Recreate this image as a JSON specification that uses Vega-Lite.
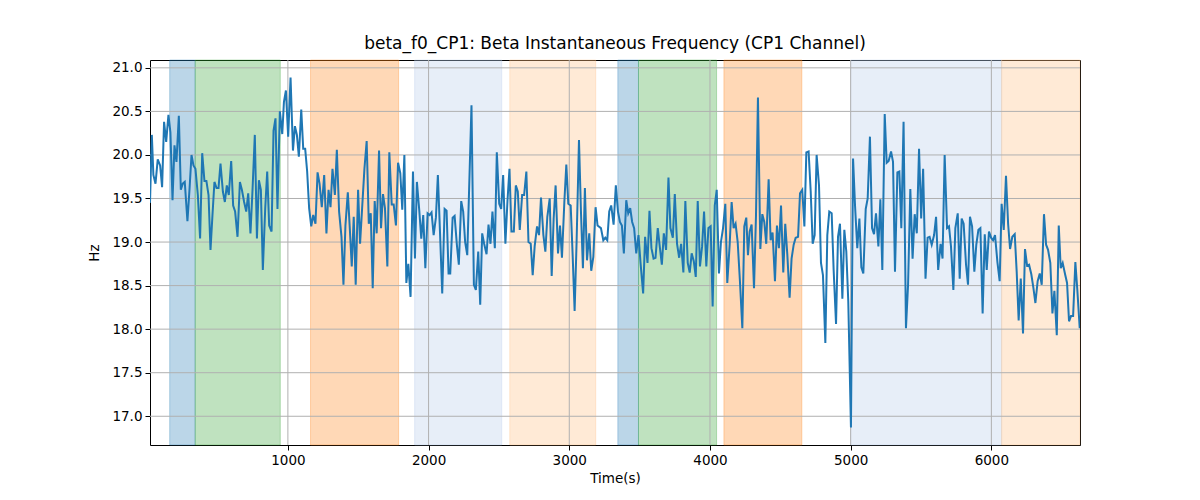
{
  "$schema": "https://vega.github.io/schema/vega-lite/v6.json",
  "width": 930,
  "height": 385,
  "autosize": {"type": "none"},
  "padding": {"left": 150, "top": 60, "right": 120, "bottom": 55},
  "background": "white",
  "title": {"text": "beta_f0_CP1: Beta Instantaneous Frequency (CP1 Channel)", "fontSize": 17, "fontWeight": "normal", "font": "DejaVu Sans", "color": "black", "offset": 7},
  "config": {
    "view": {"stroke": "black", "strokeWidth": 1},
    "axis": {"grid": false, "domain": false, "tickColor": "black", "tickSize": 5, "labelFontSize": 13.5, "labelFont": "DejaVu Sans", "labelColor": "black", "titleFont": "DejaVu Sans", "titleFontSize": 13.5, "titleFontWeight": "normal", "titleColor": "black"}
  },
  "datasets": {
    "spans": [
      {"s": 160, "e": 341, "k": "s1"},
      {"s": 341, "e": 946, "k": "s2"},
      {"s": 1161, "e": 1787, "k": "s3"},
      {"s": 1901, "e": 2520, "k": "s4"},
      {"s": 2577, "e": 3188, "k": "s5"},
      {"s": 3345, "e": 3492, "k": "s1"},
      {"s": 3492, "e": 4047, "k": "s2"},
      {"s": 4099, "e": 4653, "k": "s3"},
      {"s": 5000, "e": 6073, "k": "s4"},
      {"s": 6073, "e": 6630, "k": "s5"}
    ],
    "xgrid": [{"g": 1000}, {"g": 2000}, {"g": 3000}, {"g": 4000}, {"g": 5000}, {"g": 6000}],
    "ygrid": [{"h": 17}, {"h": 17.5}, {"h": 18}, {"h": 18.5}, {"h": 19}, {"h": 19.5}, {"h": 20}, {"h": 20.5}, {"h": 21}],
    "series": [
{"t":20,"v":19.45},{"t":33,"v":20.23},{"t":44,"v":19.77},{"t":59,"v":19.67},{"t":75,"v":19.95},{"t":92,"v":19.88},{"t":106,"v":19.63},{"t":120,"v":20.38},{"t":135,"v":20.15},{"t":151,"v":20.46},{"t":165,"v":20.26},{"t":180,"v":19.48},{"t":194,"v":20.11},{"t":208,"v":19.92},{"t":225,"v":20.45},{"t":239,"v":19.6},{"t":253,"v":19.67},{"t":267,"v":19.69},{"t":286,"v":19.24},{"t":301,"v":19.61},{"t":315,"v":20.0},{"t":329,"v":19.88},{"t":343,"v":19.84},{"t":360,"v":19.54},{"t":376,"v":19.04},{"t":391,"v":20.02},{"t":407,"v":19.7},{"t":421,"v":19.7},{"t":436,"v":19.54},{"t":450,"v":18.91},{"t":464,"v":19.31},{"t":478,"v":19.69},{"t":493,"v":19.62},{"t":507,"v":19.62},{"t":521,"v":19.9},{"t":538,"v":19.58},{"t":552,"v":19.46},{"t":566,"v":19.65},{"t":580,"v":19.54},{"t":597,"v":19.93},{"t":611,"v":19.42},{"t":625,"v":19.35},{"t":642,"v":19.06},{"t":659,"v":19.69},{"t":673,"v":19.6},{"t":689,"v":19.46},{"t":704,"v":19.35},{"t":718,"v":19.56},{"t":734,"v":19.1},{"t":749,"v":19.61},{"t":765,"v":20.23},{"t":780,"v":19.04},{"t":794,"v":19.71},{"t":808,"v":19.6},{"t":822,"v":18.68},{"t":839,"v":19.39},{"t":853,"v":19.81},{"t":867,"v":19.19},{"t":884,"v":19.12},{"t":898,"v":20.28},{"t":912,"v":20.42},{"t":926,"v":19.38},{"t":943,"v":20.5},{"t":960,"v":20.24},{"t":972,"v":20.61},{"t":986,"v":20.74},{"t":1002,"v":20.21},{"t":1019,"v":20.89},{"t":1036,"v":20.05},{"t":1050,"v":20.33},{"t":1064,"v":20.23},{"t":1078,"v":19.98},
{"t":1095,"v":20.52},{"t":1109,"v":20.07},{"t":1123,"v":20.07},{"t":1137,"v":19.81},{"t":1151,"v":19.39},{"t":1166,"v":19.18},{"t":1180,"v":19.31},{"t":1196,"v":19.21},{"t":1211,"v":19.8},{"t":1225,"v":19.67},{"t":1241,"v":19.4},{"t":1258,"v":19.77},{"t":1274,"v":19.1},{"t":1289,"v":19.6},{"t":1303,"v":19.4},{"t":1317,"v":19.84},{"t":1334,"v":19.54},{"t":1348,"v":20.06},{"t":1364,"v":19.35},{"t":1381,"v":19.06},{"t":1395,"v":18.51},{"t":1409,"v":19.19},{"t":1426,"v":19.57},{"t":1440,"v":19.16},{"t":1454,"v":18.72},{"t":1468,"v":19.29},{"t":1482,"v":18.51},{"t":1499,"v":19.6},{"t":1513,"v":18.98},{"t":1527,"v":19.37},{"t":1544,"v":19.84},{"t":1560,"v":20.16},{"t":1575,"v":19.21},{"t":1589,"v":19.33},{"t":1603,"v":18.47},{"t":1617,"v":19.47},{"t":1631,"v":19.1},{"t":1648,"v":20.05},{"t":1662,"v":19.16},{"t":1676,"v":19.55},{"t":1690,"v":19.39},{"t":1707,"v":18.72},{"t":1721,"v":20.03},{"t":1738,"v":19.43},{"t":1752,"v":19.43},{"t":1768,"v":19.19},{"t":1783,"v":19.91},{"t":1799,"v":19.79},{"t":1813,"v":19.37},{"t":1828,"v":20.0},{"t":1842,"v":18.53},{"t":1856,"v":18.75},{"t":1872,"v":18.37},{"t":1889,"v":19.81},{"t":1903,"v":18.81},{"t":1917,"v":19.69},{"t":1934,"v":19.36},{"t":1948,"v":19.04},{"t":1962,"v":19.31},{"t":1977,"v":18.7},{"t":1993,"v":19.33},{"t":2007,"v":19.31},{"t":2021,"v":19.34},{"t":2036,"v":19.08},{"t":2052,"v":19.28},{"t":2066,"v":19.77},{"t":2081,"v":19.12},{"t":2097,"v":18.41},{"t":2114,"v":19.38},{"t":2128,"v":19.36},{"t":2142,"v":18.64},
{"t":2154,"v":18.64},{"t":2171,"v":19.28},{"t":2185,"v":19.3},{"t":2201,"v":18.97},{"t":2215,"v":18.74},{"t":2232,"v":19.47},{"t":2246,"v":19.35},{"t":2260,"v":19.0},{"t":2275,"v":18.85},{"t":2305,"v":20.57},{"t":2322,"v":18.51},{"t":2336,"v":18.45},{"t":2353,"v":18.89},{"t":2367,"v":18.28},{"t":2381,"v":19.1},{"t":2395,"v":18.98},{"t":2412,"v":18.86},{"t":2426,"v":19.2},{"t":2440,"v":18.98},{"t":2454,"v":19.35},{"t":2471,"v":18.93},{"t":2485,"v":20.03},{"t":2502,"v":19.44},{"t":2516,"v":19.38},{"t":2530,"v":19.77},{"t":2546,"v":18.98},{"t":2561,"v":19.48},{"t":2575,"v":19.84},{"t":2589,"v":19.12},{"t":2606,"v":19.12},{"t":2620,"v":19.65},{"t":2634,"v":19.58},{"t":2648,"v":19.14},{"t":2665,"v":19.54},{"t":2679,"v":19.54},{"t":2695,"v":19.81},{"t":2710,"v":19.0},{"t":2726,"v":18.98},{"t":2740,"v":18.62},{"t":2754,"v":18.95},{"t":2771,"v":19.18},{"t":2785,"v":19.08},{"t":2799,"v":19.51},{"t":2816,"v":19.08},{"t":2830,"v":18.89},{"t":2844,"v":19.29},{"t":2861,"v":19.5},{"t":2875,"v":18.61},{"t":2889,"v":19.27},{"t":2903,"v":19.65},{"t":2920,"v":18.87},{"t":2934,"v":19.19},{"t":2948,"v":18.82},{"t":2965,"v":19.46},{"t":2979,"v":19.89},{"t":2993,"v":19.44},{"t":3010,"v":19.42},{"t":3024,"v":18.85},{"t":3038,"v":18.21},{"t":3052,"v":19.0},{"t":3069,"v":20.17},{"t":3083,"v":19.35},{"t":3097,"v":18.7},{"t":3111,"v":19.62},{"t":3126,"v":18.79},{"t":3142,"v":19.1},{"t":3156,"v":18.67},{"t":3171,"v":18.83},{"t":3187,"v":19.4},{"t":3201,"v":19.19},
{"t":3225,"v":19.16},{"t":3242,"v":19.02},{"t":3256,"v":19.05},{"t":3270,"v":19.02},{"t":3284,"v":19.35},{"t":3298,"v":19.42},{"t":3315,"v":19.2},{"t":3331,"v":19.65},{"t":3346,"v":19.35},{"t":3360,"v":19.23},{"t":3374,"v":19.19},{"t":3388,"v":18.87},{"t":3405,"v":19.48},{"t":3419,"v":19.33},{"t":3433,"v":19.39},{"t":3447,"v":19.23},{"t":3461,"v":19.16},{"t":3476,"v":18.87},{"t":3492,"v":19.08},{"t":3506,"v":18.77},{"t":3525,"v":18.41},{"t":3539,"v":19.06},{"t":3556,"v":18.76},{"t":3570,"v":19.36},{"t":3584,"v":18.93},{"t":3599,"v":18.81},{"t":3613,"v":18.82},{"t":3629,"v":19.16},{"t":3643,"v":18.95},{"t":3658,"v":18.74},{"t":3672,"v":19.1},{"t":3688,"v":18.91},{"t":3705,"v":19.74},{"t":3719,"v":19.16},{"t":3736,"v":19.05},{"t":3750,"v":19.55},{"t":3766,"v":18.98},{"t":3781,"v":18.82},{"t":3795,"v":18.98},{"t":3811,"v":18.65},{"t":3825,"v":19.47},{"t":3842,"v":18.76},{"t":3856,"v":18.65},{"t":3870,"v":18.87},{"t":3885,"v":18.78},{"t":3899,"v":18.6},{"t":3913,"v":19.47},{"t":3929,"v":18.72},{"t":3944,"v":18.95},{"t":3958,"v":19.35},{"t":3974,"v":18.72},{"t":3989,"v":19.16},{"t":4005,"v":19.18},{"t":4019,"v":18.26},{"t":4034,"v":19.42},{"t":4048,"v":19.6},{"t":4064,"v":18.64},{"t":4078,"v":19.0},{"t":4093,"v":19.16},{"t":4109,"v":19.44},{"t":4123,"v":18.53},{"t":4140,"v":18.97},{"t":4154,"v":19.46},{"t":4168,"v":19.16},{"t":4182,"v":19.21},{"t":4197,"v":19.0},{"t":4213,"v":18.55},{"t":4230,"v":18.01},{"t":4244,"v":19.18},{"t":4258,"v":19.28},{"t":4270,"v":18.85},
{"t":4282,"v":19.12},{"t":4296,"v":19.2},{"t":4313,"v":18.47},{"t":4327,"v":19.3},{"t":4341,"v":20.66},{"t":4358,"v":18.92},{"t":4372,"v":19.32},{"t":4386,"v":19.23},{"t":4400,"v":18.98},{"t":4417,"v":19.72},{"t":4431,"v":19.02},{"t":4445,"v":19.11},{"t":4462,"v":18.55},{"t":4476,"v":19.19},{"t":4490,"v":18.93},{"t":4505,"v":19.42},{"t":4521,"v":18.65},{"t":4535,"v":19.21},{"t":4550,"v":18.85},{"t":4566,"v":18.36},{"t":4580,"v":18.81},{"t":4595,"v":18.97},{"t":4609,"v":19.05},{"t":4626,"v":19.06},{"t":4640,"v":19.56},{"t":4656,"v":19.6},{"t":4671,"v":19.18},{"t":4685,"v":20.03},{"t":4701,"v":20.04},{"t":4716,"v":19.58},{"t":4730,"v":18.98},{"t":4744,"v":19.08},{"t":4758,"v":20.0},{"t":4775,"v":19.65},{"t":4789,"v":18.76},{"t":4803,"v":18.62},{"t":4820,"v":17.84},{"t":4834,"v":19.08},{"t":4848,"v":19.35},{"t":4865,"v":19.33},{"t":4879,"v":18.68},{"t":4896,"v":18.06},{"t":4910,"v":19.06},{"t":4924,"v":19.21},{"t":4941,"v":18.35},{"t":4955,"v":19.14},{"t":4969,"v":18.89},{"t":4983,"v":18.32},{"t":5002,"v":16.87},{"t":5017,"v":19.96},{"t":5031,"v":19.42},{"t":5047,"v":18.93},{"t":5062,"v":19.27},{"t":5076,"v":18.71},{"t":5090,"v":18.64},{"t":5107,"v":19.38},{"t":5121,"v":19.5},{"t":5137,"v":20.21},{"t":5152,"v":19.16},{"t":5166,"v":19.09},{"t":5180,"v":19.33},{"t":5197,"v":18.95},{"t":5211,"v":19.49},{"t":5225,"v":18.68},{"t":5242,"v":20.47},{"t":5256,"v":19.91},{"t":5270,"v":19.93},{"t":5287,"v":20.04},{"t":5301,"v":19.92},{"t":5315,"v":18.66},{"t":5332,"v":19.8},{"t":5346,"v":19.81},
{"t":5360,"v":19.16},{"t":5376,"v":20.38},{"t":5393,"v":18.01},{"t":5408,"v":18.51},{"t":5424,"v":19.61},{"t":5440,"v":18.81},{"t":5455,"v":19.32},{"t":5470,"v":19.1},{"t":5486,"v":20.07},{"t":5501,"v":19.27},{"t":5515,"v":19.84},{"t":5532,"v":18.58},{"t":5547,"v":19.05},{"t":5561,"v":19.06},{"t":5576,"v":18.97},{"t":5593,"v":19.08},{"t":5607,"v":19.29},{"t":5622,"v":18.68},{"t":5639,"v":18.98},{"t":5653,"v":18.81},{"t":5668,"v":20.0},{"t":5685,"v":19.16},{"t":5699,"v":19.18},{"t":5713,"v":18.95},{"t":5730,"v":18.45},{"t":5744,"v":19.16},{"t":5761,"v":19.33},{"t":5775,"v":18.58},{"t":5789,"v":19.27},{"t":5803,"v":19.21},{"t":5820,"v":18.74},{"t":5834,"v":18.51},{"t":5848,"v":19.29},{"t":5863,"v":19.18},{"t":5879,"v":18.66},{"t":5893,"v":18.97},{"t":5908,"v":19.14},{"t":5922,"v":19.16},{"t":5938,"v":18.18},{"t":5953,"v":19.09},{"t":5967,"v":18.68},{"t":5983,"v":19.12},{"t":5998,"v":19.05},{"t":6012,"v":19.02},{"t":6026,"v":19.08},{"t":6043,"v":18.77},{"t":6059,"v":18.55},{"t":6073,"v":19.44},{"t":6088,"v":19.14},{"t":6104,"v":19.76},{"t":6119,"v":19.21},{"t":6133,"v":18.92},{"t":6149,"v":19.06},{"t":6166,"v":19.09},{"t":6180,"v":18.66},{"t":6194,"v":18.1},{"t":6209,"v":18.58},{"t":6225,"v":17.95},{"t":6239,"v":18.92},{"t":6254,"v":18.73},{"t":6268,"v":18.74},{"t":6284,"v":18.63},{"t":6299,"v":18.47},{"t":6313,"v":18.3},{"t":6329,"v":18.55},{"t":6344,"v":18.64},{"t":6358,"v":18.51},{"t":6374,"v":19.32},{"t":6389,"v":18.97},{"t":6403,"v":18.91},{"t":6419,"v":18.76},{"t":6434,"v":18.18},{"t":6448,"v":18.44},{"t":6465,"v":17.93},{"t":6479,"v":19.19},{"t":6493,"v":18.7},{"t":6507,"v":18.76},{"t":6524,"v":18.63},{"t":6538,"v":18.53},{"t":6552,"v":18.09},{"t":6566,"v":18.15},{"t":6581,"v":18.15},{"t":6597,"v":18.77},{"t":6611,"v":18.45},{"t":6628,"v":18.01}
    ]
  },
  "layer": [
    {
      "data": {"name": "spans"},
      "mark": {"type": "rect", "fillOpacity": 0.3, "strokeOpacity": 0.3, "strokeWidth": 1},
      "encoding": {
        "x": {"field": "s", "type": "quantitative", "scale": {"domain": [20, 6630], "nice": false, "zero": false}, "axis": {"values": [1000, 2000, 3000, 4000, 5000, 6000], "format": "d", "title": "Time(s)", "labelPadding": 3, "titlePadding": 5}},
        "x2": {"field": "e"},
        "color": {"field": "k", "type": "nominal", "scale": {"domain": ["s1", "s2", "s3", "s4", "s5"], "range": ["#1f77b4", "#2ca02c", "#ff7f0e", "#aec7e8", "#ffbb78"]}, "legend": null},
        "stroke": {"field": "k", "type": "nominal", "scale": {"domain": ["s1", "s2", "s3", "s4", "s5"], "range": ["#1f77b4", "#2ca02c", "#ff7f0e", "#aec7e8", "#ffbb78"]}, "legend": null}
      }
    },
    {
      "data": {"name": "xgrid"},
      "mark": {"type": "rule", "color": "#b0b0b0", "strokeWidth": 1},
      "encoding": {"x": {"field": "g", "type": "quantitative"}}
    },
    {
      "data": {"name": "ygrid"},
      "mark": {"type": "rule", "color": "#b0b0b0", "strokeWidth": 1},
      "encoding": {"y": {"field": "h", "type": "quantitative"}}
    },
    {
      "data": {"name": "series"},
      "mark": {"type": "line", "color": "#1f77b4", "strokeWidth": 2, "clip": true},
      "encoding": {
        "x": {"field": "t", "type": "quantitative"},
        "y": {"field": "v", "type": "quantitative", "scale": {"domain": [16.67, 21.09], "nice": false, "zero": false}, "axis": {"values": [17, 17.5, 18, 18.5, 19, 19.5, 20, 20.5, 21], "format": ".1f", "title": "Hz", "labelPadding": 3, "titlePadding": 10}}
      }
    }
  ]
}
